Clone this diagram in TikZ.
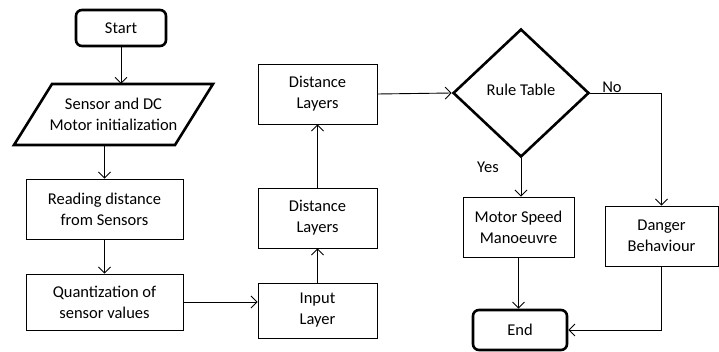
\documentclass[tikz,border=0pt]{standalone}
\usepackage{fontspec}
\setmainfont{Carlito}
\usetikzlibrary{arrows.meta,shapes.geometric}
\begin{document}
\begin{tikzpicture}[x=1pt,y=-1pt,
  font=\fontsize{16.5}{21}\selectfont,
  box/.style={draw,line width=0.9pt,rectangle,align=center,inner sep=2pt},
  term/.style={draw,line width=2.6pt,rectangle,rounded corners=6pt,align=center},
  conn/.style={line width=0.9pt,-{Straight Barb[length=6pt,width=12pt,line width=0.9pt]}},
  plain/.style={line width=0.9pt}]
\useasboundingbox (0,0) rectangle (719,352);
\node[term,minimum width=90pt,minimum height=36pt] (start) at (121,28) {Start};
\draw[line width=2.6pt,line join=miter] (52,84) -- (213,84) -- (175,145) -- (14,145) -- cycle;
\node[align=center,minimum width=161pt,minimum height=61pt,inner sep=0pt,outer sep=0pt] (init) at (113.5,114.5) {Sensor and DC\\Motor initialization};
\node[box,minimum width=157pt,minimum height=60pt] (read) at (104.5,209) {Reading distance\\from Sensors};
\node[box,minimum width=157pt,minimum height=56pt] (quant) at (104.5,302) {Quantization of\\sensor values};
\node[box,minimum width=119pt,minimum height=55pt] (input) at (317.5,310.5) {Input\\Layer};
\node[box,minimum width=119pt,minimum height=60pt] (dla) at (317.5,218) {Distance\\Layers};
\node[box,minimum width=119pt,minimum height=60pt] (dlb) at (317.5,94) {Distance\\Layers};
\node[draw,diamond,line width=2.6pt,minimum width=136pt,minimum height=128pt,inner sep=0pt] (rt) at (521,93) {\raisebox{6pt}{Rule Table}};
\node[box,minimum width=111pt,minimum height=60pt] (motor) at (518.5,227) {Motor Speed\\Manoeuvre};
\node[box,minimum width=113pt,minimum height=60pt] (danger) at (661.5,236) {Danger\\Behaviour};
\node[term,minimum width=94pt,minimum height=40pt] (end) at (520,330) {End};
\node (no) at (612,87) {No};
\node (yes) at (488,167) {Yes};
\draw[conn] (start.south) -- (start.south |- init.north);
\draw[conn] (init.south -| read.north) -- (read.north);
\draw[conn] (read.south) -- (quant.north);
\draw[conn] (quant.east) -- (quant.east -| input.west);
\draw[conn] (input.north) -- (dla.south);
\draw[conn] (dla.north) -- (dlb.south);
\draw[conn] (dlb.east) -- (rt.west);
\draw[conn] (rt.south) -- (rt.south |- motor.north);
\draw[conn] (rt.east) -| (danger.north);
\draw[conn] (motor.south) -- (motor.south |- end.north);
\draw[conn] (danger.south) |- (end.east);
\end{tikzpicture}
\end{document}
